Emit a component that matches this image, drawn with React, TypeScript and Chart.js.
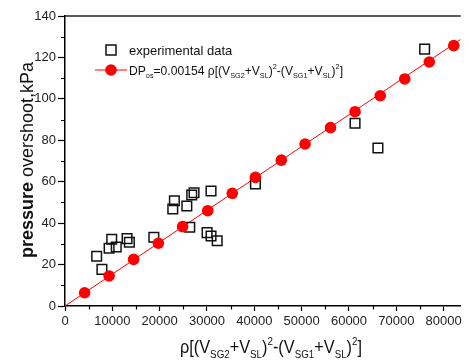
import React, { useEffect, useRef } from "react";
import { Chart, registerables } from "chart.js";

Chart.register(...registerables);

// Measured pressure overshoot (kPa) against rho[(Vsg2+Vsl)^2-(Vsg1+Vsl)^2]
const expX = [6690, 7800, 9320, 9870, 10830, 13110, 13600, 18770, 22770, 23110, 25740, 26360, 26770, 27260, 30020, 30850, 30850, 32160, 40230, 61280, 66110, 75980];
const expY = [24.0, 17.7, 27.9, 32.2, 28.5, 32.5, 30.8, 33.2, 46.8, 50.8, 48.3, 38.0, 53.6, 54.7, 35.4, 55.5, 33.8, 31.5, 58.9, 88.2, 76.3, 124.0];

// Correlation DPos = 0.00154 * rho[...]
const modelX = [4140, 9320, 14490, 19730, 24840, 30160, 35340, 40230, 45700, 50720, 56100, 61280, 66600, 71780, 76960, 82130];
const modelY = [6.4, 14.5, 22.5, 30.3, 38.3, 46.0, 54.4, 62.1, 70.4, 78.2, 86.1, 93.8, 101.5, 109.6, 117.8, 125.7];

// Correlation line ends
const lineX = [0, 83600];
const lineY = [0, 128.7];

// Axis ranges and tick positions
const xMin = 0;
const xMax = 83600;
const xTicks = [0, 10000, 20000, 30000, 40000, 50000, 60000, 70000, 80000];
const xMinorTicks = [5000, 15000, 25000, 35000, 45000, 55000, 65000, 75000];
const yMin = 0;
const yMax = 140;
const yTicks = [0, 20, 40, 60, 80, 100, 120, 140];
const yMinorTicks = [10, 30, 50, 70, 90, 110, 130];

const FONT = "'Liberation Sans', Arial, Helvetica, sans-serif";
const RED = "#ff0000";

type Seg = [string, "n" | "b" | "sub" | "sup"];

const yTitle: Seg[] = [["pressure", "b"], [" overshoot,kPa", "n"]];
const xTitle: Seg[] = [
  ["\u03C1[(V", "n"], ["SG2", "sub"], ["+V", "n"], ["SL", "sub"], [")", "n"], ["2", "sup"],
  ["-(V", "n"], ["SG1", "sub"], ["+V", "n"], ["SL", "sub"], [")", "n"], ["2", "sup"], ["]", "n"],
];
const legendExp: Seg[] = [["experimental data", "n"]];
const legendModel: Seg[] = [
  ["DP", "n"], ["os", "sub"], ["=0.00154 ", "n"],
  ["\u03C1[(V", "n"], ["SG2", "sub"], ["+V", "n"], ["SL", "sub"], [")", "n"], ["2", "sup"],
  ["-(V", "n"], ["SG1", "sub"], ["+V", "n"], ["SL", "sub"], [")", "n"], ["2", "sup"], ["]", "n"],
];

function segFont(k: Seg[1], size: number) {
  const s = k === "sub" || k === "sup" ? size * 0.6 : size;
  return `${k === "b" ? "bold " : ""}${s}px ${FONT}`;
}

function richWidth(ctx: CanvasRenderingContext2D, segs: Seg[], size: number) {
  let w = 0;
  for (const [t, k] of segs) {
    ctx.font = segFont(k, size);
    w += ctx.measureText(t).width;
  }
  return w;
}

// Draws a run of text with sub/superscripts; optional fit width squeezes it horizontally
function drawRich(ctx: CanvasRenderingContext2D, segs: Seg[], x: number, y: number, size: number, fitWidth?: number) {
  const w = richWidth(ctx, segs, size);
  const sx = fitWidth ? Math.min(1, fitWidth / w) : 1;
  ctx.save();
  ctx.translate(x, y);
  ctx.scale(sx, 1);
  ctx.textBaseline = "alphabetic";
  ctx.textAlign = "left";
  let cx = 0;
  for (const [t, k] of segs) {
    ctx.font = segFont(k, size);
    const dy = k === "sub" ? size * 0.28 : k === "sup" ? -size * 0.45 : 0;
    ctx.fillText(t, cx, dy);
    cx += ctx.measureText(t).width;
  }
  ctx.restore();
}

const decorPlugin = {
  id: "decor",
  afterDraw(chart: any) {
    const { ctx, chartArea, scales } = chart;
    const { left, right, top, bottom } = chartArea;
    ctx.save();

    // top frame line
    ctx.strokeStyle = "#222";
    ctx.lineWidth = 1.5;
    ctx.beginPath();
    ctx.moveTo(left, top);
    ctx.lineTo(right, top);
    ctx.stroke();

    // minor ticks
    ctx.strokeStyle = "#000";
    ctx.lineWidth = 1.2;
    ctx.beginPath();
    for (const v of xMinorTicks) {
      const px = Math.round(scales.x.getPixelForValue(v)) + 0.5;
      ctx.moveTo(px, bottom);
      ctx.lineTo(px, bottom + 3.5);
    }
    for (const v of yMinorTicks) {
      const py = Math.round(scales.y.getPixelForValue(v)) + 0.5;
      ctx.moveTo(left, py);
      ctx.lineTo(left - 4, py);
    }
    ctx.stroke();

    // legend
    ctx.fillStyle = "#111";
    ctx.strokeStyle = "#111";
    ctx.lineWidth = 1.5;
    ctx.strokeRect(106, 45, 10, 10);
    drawRich(ctx, legendExp, 129, 54.5, 13);

    ctx.strokeStyle = RED;
    ctx.lineWidth = 1;
    ctx.beginPath();
    ctx.moveTo(95, 70);
    ctx.lineTo(127, 70);
    ctx.stroke();
    ctx.fillStyle = RED;
    ctx.beginPath();
    ctx.arc(111, 70, 5.8, 0, Math.PI * 2);
    ctx.fill();
    ctx.fillStyle = "#111";
    drawRich(ctx, legendModel, 129, 74.5, 13, 214);

    // x title
    drawRich(ctx, xTitle, 180, 353, 18, 182);

    // y title
    const yw = richWidth(ctx, yTitle, 18);
    ctx.translate(33, 160);
    ctx.rotate(-Math.PI / 2);
    drawRich(ctx, yTitle, -yw / 2, 0, 18);

    ctx.restore();
  },
};

export default function App() {
  const ref = useRef<HTMLCanvasElement | null>(null);

  useEffect(() => {
    if (!ref.current) return;
    const chart = new Chart(ref.current, {
      type: "scatter",
      data: {
        datasets: [
          {
            label: "fit",
            data: lineX.map((x, i) => ({ x, y: lineY[i] })),
            showLine: true,
            borderColor: RED,
            borderWidth: 1,
            pointRadius: 0,
            order: 2,
          },
          {
            label: "model",
            data: modelX.map((x, i) => ({ x, y: modelY[i] })),
            pointStyle: "circle",
            pointRadius: 5.8,
            backgroundColor: RED,
            borderColor: RED,
            borderWidth: 0,
            order: 0,
          },
          {
            label: "experimental data",
            data: expX.map((x, i) => ({ x, y: expY[i] })),
            pointStyle: "rect",
            pointRadius: 6.8,
            backgroundColor: "rgba(0,0,0,0)",
            borderColor: "#111",
            borderWidth: 1.5,
            order: 1,
          },
        ],
      },
      options: {
        responsive: false,
        animation: false,
        events: [],
        layout: { padding: { top: 16, left: 0, right: 0, bottom: 0 } },
        plugins: { legend: { display: false }, tooltip: { enabled: false } },
        scales: {
          x: {
            type: "linear",
            min: xMin,
            max: xMax,
            afterBuildTicks: (s: any) => {
              s.ticks = xTicks.map((value) => ({ value }));
            },
            afterFit: (s: any) => {
              s.height = 57;
              s.paddingLeft = 0;
              s.paddingRight = 0;
            },
            ticks: {
              maxRotation: 0,
              autoSkip: false,
              padding: 3,
              color: "#222",
              font: { family: FONT, size: 13 },
              callback: (v: any) => String(v),
            },
            grid: {
              display: true,
              drawOnChartArea: false,
              drawTicks: true,
              tickLength: 5,
              tickColor: "#000",
              tickWidth: 1.2,
            },
            border: { display: true, color: "#000", width: 1.5 },
          },
          y: {
            type: "linear",
            min: yMin,
            max: yMax,
            afterBuildTicks: (s: any) => {
              s.ticks = yTicks.map((value) => ({ value }));
            },
            afterFit: (s: any) => {
              s.width = 65;
            },
            ticks: {
              padding: 2,
              color: "#222",
              font: { family: FONT, size: 13 },
              callback: (v: any) => String(v),
            },
            grid: {
              display: true,
              drawOnChartArea: false,
              drawTicks: true,
              tickLength: 7,
              tickColor: "#000",
              tickWidth: 1.2,
            },
            border: { display: true, color: "#000", width: 1.5 },
          },
        },
      },
      plugins: [decorPlugin],
    } as any);
    return () => chart.destroy();
  }, []);

  return (
    <div style={{ position: "fixed", left: 0, top: 0, width: 469, height: 363, background: "#fff" }}>
      <canvas ref={ref} width={469} height={363} style={{ display: "block" }} />
    </div>
  );
}
